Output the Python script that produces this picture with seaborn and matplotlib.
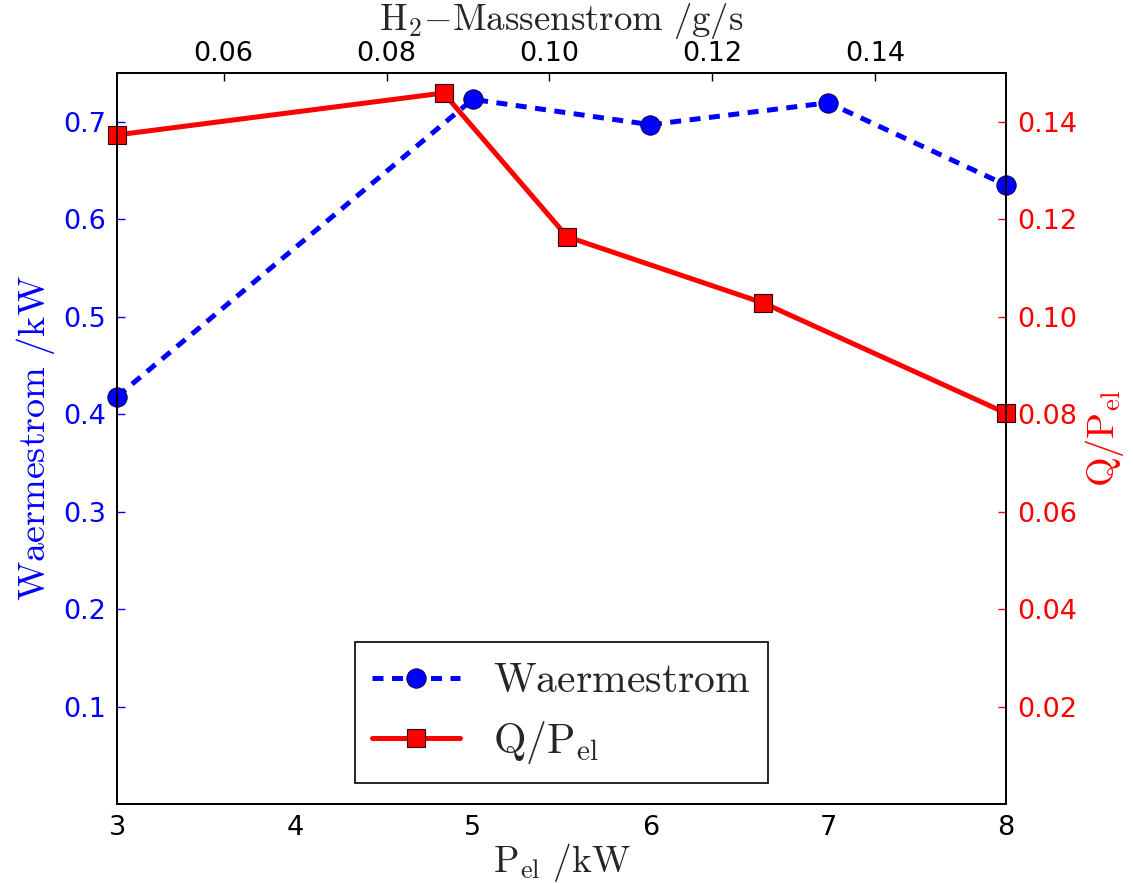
import matplotlib
matplotlib.use("Agg")
import matplotlib.pyplot as plt
import seaborn as sns
import pandas as pd

# Data
p_el_kw = [3, 5, 6, 7, 8]
waermestrom_kw = [0.418, 0.723, 0.697, 0.7195, 0.635]
h2_massenstrom_gs = [0.0469, 0.0870, 0.1022, 0.1263, 0.1561]
q_per_pel = [0.1373, 0.1459, 0.1164, 0.1028, 0.0802]

bottom_ticks = [3, 4, 5, 6, 7, 8]
left_ticks = [0.1, 0.2, 0.3, 0.4, 0.5, 0.6, 0.7]
right_ticks = [0.02, 0.04, 0.06, 0.08, 0.10, 0.12, 0.14]
top_ticks = [0.06, 0.08, 0.10, 0.12, 0.14]

sns.set_style("white")
plt.rcParams["font.family"] = ["DejaVu Sans"]
plt.rcParams["mathtext.fontset"] = "cm"

fig = plt.figure(figsize=(11.33, 8.83), dpi=100)
ax = fig.add_axes([0.1033, 0.0895, 0.7847, 0.8278])
ax_r = ax.twinx()
ax_t = ax_r.twiny()

df_b = pd.DataFrame({"x": p_el_kw, "y": waermestrom_kw})
df_r = pd.DataFrame({"x": h2_massenstrom_gs, "y": q_per_pel})

sns.lineplot(data=df_b, x="x", y="y", ax=ax, color="#0000ff", linestyle="--",
             linewidth=3.6, marker="o", markersize=14, markeredgecolor="#000033",
             markeredgewidth=0.6, label=r"$\mathrm{Waermestrom}$",
             legend=False, clip_on=False)
ax.lines[0].set_dashes([2.2, 1.7])
sns.lineplot(data=df_r, x="x", y="y", ax=ax_t, color="#ff0000", linestyle="-",
             linewidth=3.6, marker="s", markersize=12.5, markeredgecolor="#330000",
             markeredgewidth=0.8, label=r"$\mathrm{Q/P_{el}}$", legend=False,
             clip_on=False)

ax.set_xlim(3, 8)
ax.set_ylim(0, 0.75)
ax_r.set_ylim(0, 0.15)
ax_t.set_xlim(min(h2_massenstrom_gs), max(h2_massenstrom_gs))
ax_t.set_ylim(0, 0.15)

ax.set_xticks(bottom_ticks)
ax.set_yticks(left_ticks)
ax_r.set_yticks(right_ticks)
ax_t.set_xticks(top_ticks)

fs_tick = 19.5
ax.tick_params(axis="x", direction="in", length=6, width=1, labelsize=fs_tick,
               colors="black", pad=8)
ax.tick_params(axis="y", direction="in", length=6, width=1, labelsize=fs_tick,
               colors="#0000ff", pad=8)
ax_r.tick_params(axis="y", direction="in", length=6, width=1, labelsize=fs_tick,
                 colors="#ff0000", pad=8)
ax_t.tick_params(axis="x", direction="in", length=6, width=1, labelsize=fs_tick,
                 colors="black", pad=4)

ax.set_xlabel(r"$\mathrm{P_{el}\ /kW}$", fontsize=27, labelpad=0)
ax.set_ylabel(r"$\mathrm{Waermestrom\ /kW}$", fontsize=27.5, color="#0000ff", labelpad=4)
ax_r.set_ylabel(r"$\mathrm{Q/P_{el}}$", fontsize=27.5, color="#ff0000", labelpad=4)
ax_t.set_xlabel(r"$\mathrm{H_2{-}Massenstrom\ /g/s}$", fontsize=26.5, labelpad=8)

for a in (ax, ax_r, ax_t):
    for s in a.spines.values():
        s.set_color("black")
        s.set_linewidth(1.2)

h1, l1 = ax.get_legend_handles_labels()
h2, l2 = ax_t.get_legend_handles_labels()
leg = ax_t.legend(h1 + h2, l1 + l2, loc="lower center", bbox_to_anchor=(0.5, 0.0),
                  fontsize=30, fancybox=False, framealpha=1, edgecolor="black",
                  handlelength=2.1, handletextpad=0.8, borderpad=0.42,
                  labelspacing=0.42, borderaxespad=0.5)
leg.get_frame().set_linewidth(1.2)
leg.set_zorder(10)

fig.savefig("out.png", dpi=100)
